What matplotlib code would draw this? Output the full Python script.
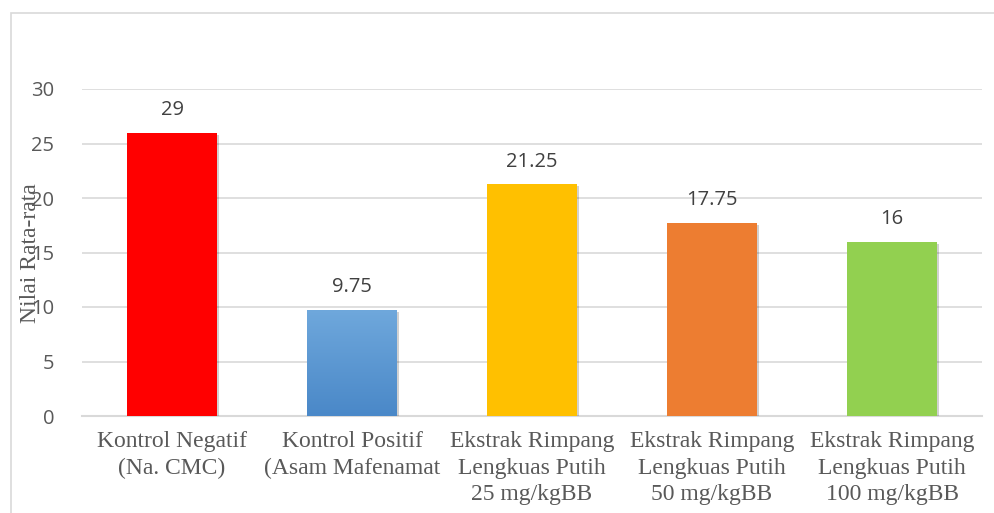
import numpy as np
import matplotlib.pyplot as plt
import matplotlib.patheffects as pe
from matplotlib.patches import Rectangle
from matplotlib.colors import LinearSegmentedColormap

# data
categories = ["Kontrol Negatif\n(Na. CMC)",
              "Kontrol Positif\n(Asam Mafenamat",
              "Ekstrak Rimpang\nLengkuas Putih\n25 mg/kgBB",
              "Ekstrak Rimpang\nLengkuas Putih\n50 mg/kgBB",
              "Ekstrak Rimpang\nLengkuas Putih\n100 mg/kgBB"]
bar_heights = [26, 9.75, 21.25, 17.75, 16]
value_labels = ["29", "9.75", "21.25", "17.75", "16"]
bar_colors = ["#ff0000", "#5b9bd5", "#ffc000", "#ed7d31", "#92d050"]
yticks = [0, 5, 10, 15, 20, 25, 30]

W, H = 995, 513
fig = plt.figure(figsize=(W/100, H/100), dpi=100)
ax = fig.add_axes([82/W, 1-416/H, 900/W, 327/H])

# outer chart frame (runs past right and bottom edges)
fig.patches.append(Rectangle((11/W, -0.1), 1.1, 1.1-13/H, transform=fig.transFigure,
                             fill=False, ec="#d9d9d9", lw=1.2))

x = np.arange(len(categories))
shadow = [pe.SimplePatchShadow(offset=(1.5, -1.5), shadow_rgbFace="#000000", alpha=0.18),
          pe.Normal()]
bars = ax.bar(x, bar_heights, width=0.5, color=bar_colors, zorder=3)
for b in bars:
    b.set_path_effects(shadow)

# gradient on the blue bar
b = bars[1]
grad = np.linspace(0, 1, 100).reshape(-1, 1)
cmap = LinearSegmentedColormap.from_list("blu", ["#4a88c8", "#6fa8dc"])
im = ax.imshow(grad, cmap=cmap, aspect="auto", origin="lower",
               extent=(b.get_x(), b.get_x()+b.get_width(), 0, b.get_height()), zorder=4)
im.set_clip_path(b)

for i, (h, lab) in enumerate(zip(bar_heights, value_labels)):
    ax.annotate(lab, (x[i], h), xytext=(0, 9), textcoords="offset points",
                ha="center", va="bottom", fontsize=14.5, color="#404040",
                family="Open Sans")

ax.set_xlim(-0.5, len(categories)-0.5)
ax.set_ylim(0, 30)
ax.set_yticks(yticks)
ax.set_yticklabels([str(t) for t in yticks], fontsize=14.5, color="#595959", family="Open Sans")
ax.set_xticks(x)
ax.set_xticklabels(categories, fontsize=17, color="#595959", family="Liberation Serif",
                   linespacing=1.35, va="top")
ax.tick_params(axis="y", length=0, pad=20)
ax.tick_params(axis="x", length=0, pad=11)
ax.grid(axis="y", color="#d9d9d9", lw=1.2, zorder=0)
ax.set_axisbelow(True)
for s in ["top", "right", "left"]:
    ax.spines[s].set_visible(False)
ax.spines["bottom"].set_color("#d9d9d9")
ax.spines["bottom"].set_linewidth(1.5)

fig.text(31/W, 1-253/H, "Nilai Rata-rata", rotation=90, ha="center", va="center",
         fontsize=17, color="#595959", family="Liberation Serif")

fig.savefig("out.png", dpi=100)
